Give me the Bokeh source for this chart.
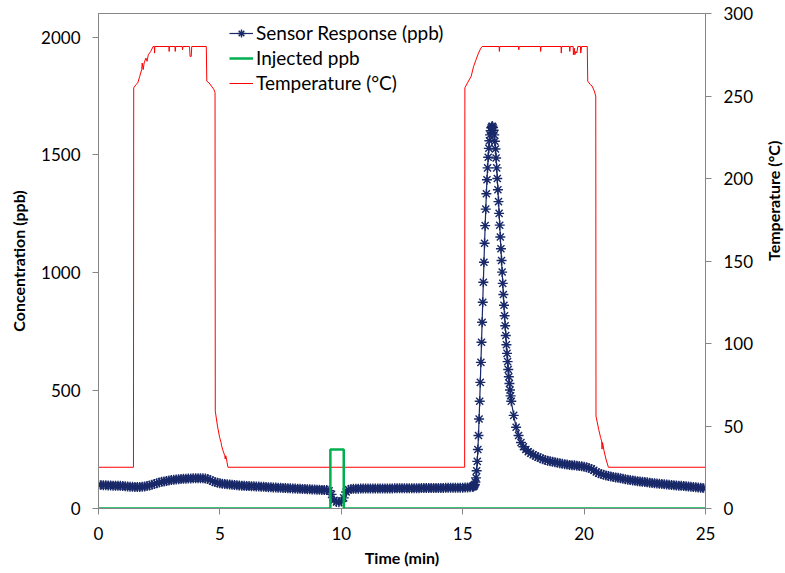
import math
import numpy as np
from bokeh.plotting import figure
from bokeh.models import Range1d, LinearAxis, FixedTicker, Legend, LegendItem
from bokeh.embed import file_html
from bokeh.resources import INLINE

# ---------------- data ----------------
# Sensor response (ppb), sampled every 0.1 min from 0.0 to 15.4 min
sensor_a_start, sensor_a_step = 0.0, 0.1
sensor_a_ppb = [
    100, 100, 99, 99, 98, 98, 97, 97, 96, 96,
    95, 94, 93, 92, 92, 91, 91, 91, 92, 93,
    95, 98, 101, 104, 107, 110, 113, 115, 117, 119,
    121, 122, 123, 124, 125, 126, 126, 127, 127, 128,
    128, 128, 128, 128, 127, 125, 121, 116, 112, 109,
    107, 105, 104, 103, 102, 101, 100, 99, 98, 97,
    96, 95, 95, 94, 94, 93, 93, 92, 92, 91,
    90, 90, 89, 89, 88, 88, 87, 87, 86, 86,
    85, 85, 84, 84, 83, 83, 82, 82, 81, 81,
    80, 80, 79, 79, 78, 75, 60, 35, 28, 27,
    30, 45, 70, 80, 83, 84, 84, 84, 85, 85,
    85, 85, 85, 85, 85, 85, 85, 85, 85, 85,
    85, 85, 86, 86, 86, 86, 86, 86, 86, 86,
    86, 86, 86, 87, 87, 87, 87, 87, 87, 87,
    87, 87, 87, 88, 88, 88, 88, 88, 88, 88,
    88, 89, 89, 90, 92,
]
# Sensor response (ppb), sampled every 0.025 min from 15.425 to 17.0 min (peak)
sensor_b_start, sensor_b_step = 15.425, 0.025
sensor_b_ppb = [
    92, 94, 97, 102, 112, 130, 160, 200, 250, 310,
    380, 455, 535, 620, 705, 790, 875, 960, 1045, 1125,
    1200, 1270, 1335, 1395,
    1445, 1490, 1528, 1560, 1585, 1603, 1615, 1621, 1622, 1616,
    1605, 1585, 1558, 1525, 1487, 1445, 1400, 1352, 1302, 1252,
    1202, 1152, 1102, 1052, 1003, 955, 908, 862, 818, 775,
    734, 695, 658, 623, 590, 559, 530, 503, 478, 455,
]
# Sensor response (ppb), sampled every 0.1 min from 17.1 to 25.0 min
sensor_c_start, sensor_c_step = 17.1, 0.1
sensor_c_ppb = [
    395, 345, 310, 280, 262, 250, 241, 234, 228,
    223, 218, 213, 209, 206, 203, 200, 198, 196, 194,
    192, 190, 188, 187, 185, 184, 183, 181, 180, 179,
    177, 175, 172, 168, 162, 155, 150, 146, 143, 140,
    138, 136, 134, 132, 130, 128, 126, 124, 122, 121,
    119, 118, 116, 115, 113, 112, 111, 109, 108, 107,
    106, 105, 104, 103, 102, 101, 100, 99, 98, 97,
    96, 95, 94, 93, 92, 91, 90, 89, 88, 87,
    86,
]

# Injected ppb (step pulse)
inject_time = [0, 9.55, 9.55, 10.1, 10.1, 25]
inject_ppb = [0, 0, 250, 250, 0, 0]

# Temperature (°C)
temp_time = [
    0, 1.44, 1.45, 1.55, 1.62, 1.70, 1.78, 1.80, 1.84, 1.88, 1.95, 2.00, 2.05,
    2.15, 2.25, 2.30, 2.31, 2.32, 2.90, 2.91, 2.92, 3.15, 3.16, 3.18, 3.45,
    3.46, 3.48, 3.75, 3.77, 3.82, 3.84, 4.44, 4.46, 4.55, 4.65, 4.75, 4.80,
    4.81, 4.90, 4.99, 5.05, 5.07, 5.13, 5.20, 5.22, 5.24, 5.26, 5.33,
    15.08, 15.09, 15.20, 15.35, 15.45, 15.55, 15.65, 15.75, 15.80,
    16.50, 16.51, 16.53, 17.30, 17.31, 17.33, 18.20, 18.21, 18.23,
    19.05, 19.06, 19.08, 19.40, 19.41, 19.43, 19.55, 19.56, 19.60, 19.62,
    19.66, 19.70, 19.74, 19.85, 19.86, 19.90, 20.13,
    20.15, 20.25, 20.33, 20.42, 20.48, 20.49, 20.60, 20.68, 20.72, 20.74,
    20.76, 20.82, 20.90, 21.00, 25.0,
]
temp_c = [
    25, 25, 255, 257, 258, 262, 266, 270, 266, 270, 273, 271, 275,
    277, 280, 280, 276, 280, 280, 277, 280, 280, 277, 280, 280,
    278, 280, 280, 274, 274, 280, 280, 259, 258, 256, 254, 252,
    59, 50, 43, 40, 38, 35, 32, 30, 32, 31, 25,
    25, 255, 258, 262, 268, 272, 276, 279, 280,
    280, 277, 280, 280, 278, 280, 280, 277, 280,
    280, 276, 280, 280, 277, 280, 280, 275, 279, 275,
    277, 276, 280, 280, 276, 280, 280,
    259, 257, 256, 253, 250, 56, 48, 43, 41, 36,
    40, 35, 30, 25, 25,
]

x_ticks = [0, 5, 10, 15, 20, 25]
left_ticks = [0, 500, 1000, 1500, 2000]
right_ticks = [0, 50, 100, 150, 200, 250, 300]

# ---------------- assemble sensor series ----------------
def sample_times(start, step, n):
    return list(np.round(start + step * np.arange(n), 4))

sensor_time = (sample_times(sensor_a_start, sensor_a_step, len(sensor_a_ppb))
               + sample_times(sensor_b_start, sensor_b_step, len(sensor_b_ppb))
               + sample_times(sensor_c_start, sensor_c_step, len(sensor_c_ppb)))
sensor_ppb = sensor_a_ppb + sensor_b_ppb + sensor_c_ppb

# ---------------- figure ----------------
FONT = "Lato"
AXIS_GRAY = "#868686"
NAVY = "#182868"

p = figure(frame_width=607, frame_height=495,
           x_range=Range1d(0, 25), y_range=Range1d(0, 2100),
           output_backend="svg", toolbar_location=None,
           min_border_left=98, min_border_right=80,
           min_border_top=13, min_border_bottom=65)
p.extra_y_ranges = {"temp": Range1d(0, 300)}
p.xgrid.visible = False
p.ygrid.visible = False
p.outline_line_color = AXIS_GRAY
p.outline_line_width = 1
p.background_fill_color = "white"
p.border_fill_color = "white"

def style_axis(ax, label, ticks, label_standoff):
    ax.axis_label = label
    ax.ticker = FixedTicker(ticks=ticks)
    ax.axis_line_color = AXIS_GRAY
    ax.major_tick_line_color = AXIS_GRAY
    ax.major_tick_out = 6
    ax.major_tick_in = 0
    ax.minor_tick_line_color = None
    ax.major_label_text_font = FONT
    ax.major_label_text_font_size = "17px"
    ax.major_label_text_color = "black"
    ax.axis_label_text_font = FONT
    ax.axis_label_text_font_size = "16px"
    ax.axis_label_text_font_style = "bold"
    ax.axis_label_text_color = "black"
    ax.major_label_standoff = 12
    ax.axis_label_standoff = label_standoff

style_axis(p.xaxis[0], "Time (min)", x_ticks, 5)
style_axis(p.yaxis[0], "Concentration (ppb)", left_ticks, 10)

right_axis = LinearAxis(y_range_name="temp")
style_axis(right_axis, "Temperature (°C)", right_ticks, 17)
try:
    right_axis.axis_label_orientation = math.pi / 2
except Exception:
    pass
p.add_layout(right_axis, "right")

# ---------------- glyphs ----------------
temp_line = p.line(temp_time, temp_c, y_range_name="temp",
                   line_color="#FF0000", line_width=1)
sensor_line = p.line(sensor_time, sensor_ppb, line_color=NAVY, line_width=1.2)
sensor_pts = p.scatter(sensor_time, sensor_ppb, marker="asterisk", size=10,
                       line_color=NAVY, line_width=1.4)
inject_line = p.line(inject_time, inject_ppb, line_color="#00B050", line_width=2.5)

legend = Legend(items=[
    LegendItem(label="Sensor Response (ppb)", renderers=[sensor_line, sensor_pts]),
    LegendItem(label="Injected ppb", renderers=[inject_line]),
    LegendItem(label="Temperature (°C)", renderers=[temp_line]),
], location=(131, 413))
legend.border_line_color = None
legend.background_fill_alpha = 0
legend.padding = 0
legend.margin = 0
legend.spacing = 0
legend.label_height = 25
legend.glyph_width = 24
legend.glyph_height = 20
legend.label_standoff = 3
legend.label_text_font = FONT
legend.label_text_font_size = "19px"
legend.label_text_color = "black"
p.add_layout(legend)

open("out.html", "w").write(file_html(p, INLINE))
